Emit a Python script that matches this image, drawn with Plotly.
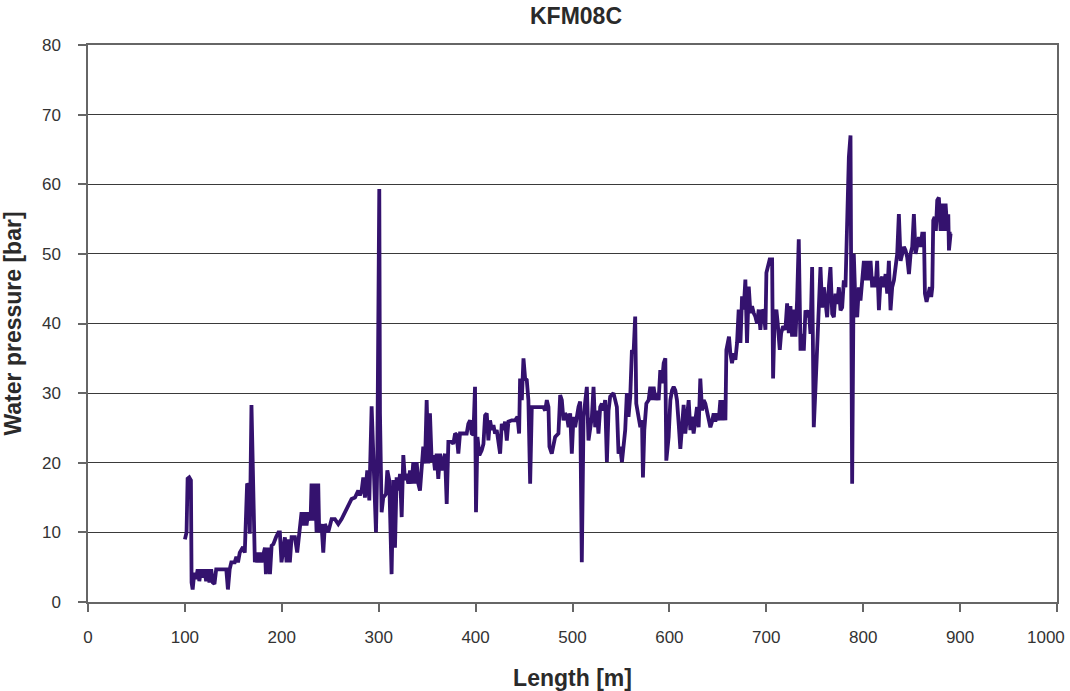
import plotly.graph_objects as go

length_m = [
    100.0, 101.7, 102.8, 104.5, 106.2, 106.9, 108.0, 109.7, 111.5, 113.2, 114.9, 116.7, 118.4, 120.1,
    121.9, 123.6, 125.3, 127.1, 128.8, 130.5, 132.3, 137.5, 142.7, 144.4, 146.2, 147.9, 151.4, 153.1,
    154.8, 156.6, 160.0, 161.8, 162.8, 164.2, 165.9, 167.0, 168.7, 170.4, 172.2, 173.9, 175.6, 177.4,
    179.1, 182.6, 183.6, 186.1, 187.8, 189.5, 191.3, 194.0, 196.5, 198.0, 199.7, 203.2, 204.9, 206.6,
    208.3, 210.1, 213.5, 215.9, 218.0, 220.4, 222.1, 223.8, 225.5, 227.3, 229.7, 230.7, 232.4, 234.2,
    235.9, 237.6, 238.6, 241.0, 242.8, 244.5, 247.9, 251.4, 254.8, 258.3, 261.7, 265.1, 268.6, 272.0,
    275.5, 278.9, 280.6, 282.4, 284.1, 285.8, 288.2, 290.3, 292.7, 295.1, 297.2, 298.5, 300.6, 301.3,
    303.0, 304.7, 307.5, 308.9, 310.9, 313.3, 315.1, 316.8, 318.5, 320.2, 322.0, 323.7, 325.4, 327.1,
    328.8, 330.6, 332.3, 334.0, 335.7, 337.4, 339.2, 340.9, 342.6, 346.0, 347.8, 349.5, 351.2, 352.9,
    354.7, 356.4, 358.1, 359.8, 361.5, 363.3, 365.0, 366.7, 368.4, 370.2, 371.9, 375.3, 377.0, 378.8,
    380.5, 382.2, 383.9, 390.8, 392.5, 394.3, 396.0, 397.7, 399.4, 400.4, 401.9, 403.9, 406.3, 408.1,
    409.8, 411.5, 413.2, 414.9, 416.7, 418.4, 420.1, 421.8, 423.6, 425.3, 427.0, 428.7, 430.4, 432.2,
    433.9, 437.3, 440.8, 443.2, 444.9, 445.9, 447.7, 449.4, 451.1, 452.8, 454.5, 456.3, 458.0, 461.4,
    466.6, 470.0, 471.8, 473.5, 475.2, 476.2, 478.6, 480.4, 482.1, 485.5, 487.3, 489.0, 490.7, 492.4,
    494.1, 495.9, 497.6, 499.3, 501.0, 502.7, 504.5, 506.2, 507.9, 509.6, 511.4, 513.1, 514.8, 516.5,
    518.2, 520.0, 521.7, 523.4, 525.1, 526.8, 528.6, 530.3, 532.0, 533.7, 535.5, 537.2, 538.9, 540.6,
    542.3, 544.1, 545.8, 547.5, 549.2, 551.0, 552.7, 554.4, 556.1, 557.8, 559.6, 561.3, 563.0, 564.7,
    565.8, 568.2, 570.0, 571.7, 572.7, 574.1, 576.2, 578.6, 580.3, 582.0, 583.7, 585.5, 587.2, 588.9,
    590.6, 592.3, 594.1, 595.8, 596.8, 599.2, 601.0, 602.7, 604.4, 606.1, 607.8, 609.6, 611.3, 613.0,
    614.7, 616.4, 618.2, 619.9, 621.6, 623.3, 625.0, 626.8, 628.5, 630.2, 631.9, 633.7, 635.4, 637.1,
    638.8, 640.5, 642.3, 644.0, 645.7, 647.4, 649.1, 650.9, 652.6, 654.3, 656.0, 657.8, 658.8, 660.2,
    661.5, 662.9, 664.6, 666.4, 668.1, 669.8, 671.5, 673.3, 675.0, 676.7, 678.4, 680.1, 681.9, 683.6,
    685.3, 687.0, 688.7, 690.5, 692.2, 693.9, 695.6, 697.4, 699.1, 700.1, 701.5, 703.5, 706.0, 707.0,
    708.4, 710.4, 711.8, 713.9, 715.3, 717.3, 719.7, 721.5, 723.2, 724.9, 726.6, 728.3, 730.1, 731.8,
    733.5, 735.3, 737.0, 738.7, 740.4, 742.1, 743.9, 745.6, 747.3, 749.0, 750.8, 752.5, 754.2, 755.9,
    757.6, 759.4, 761.1, 762.8, 764.5, 766.2, 768.0, 769.7, 771.4, 773.1, 774.9, 776.6, 778.3, 780.0,
    781.7, 783.5, 785.2, 786.9, 787.6, 788.6, 790.3, 792.1, 793.8, 795.5, 797.2, 799.0, 800.7, 802.4,
    804.1, 805.8, 807.6, 809.3, 811.0, 812.7, 814.4, 816.2, 817.9, 819.6, 821.3, 823.1, 824.8, 826.5,
    828.2, 829.9, 831.7, 833.4, 835.1, 836.8, 838.6, 840.3, 842.0, 843.7, 845.4, 847.2, 848.9, 850.6,
    852.3, 854.0, 855.8, 857.5, 859.2, 860.9, 862.7, 863.7, 865.4, 866.8, 868.8, 870.2, 871.3, 872.3,
    873.7, 875.0, 876.4, 878.1, 879.9, 881.6, 883.3, 885.0, 886.8, 887.8, 888.5, 890.2, 891.2,
]

pressure_bar = [
    9.0, 10.0, 17.7, 17.9, 17.5, 2.8, 1.8, 4.2, 3.3, 4.7, 3.0, 4.7, 3.5, 4.7,
    3.0, 4.7, 2.8, 4.7, 2.8, 2.6, 4.7, 4.7, 4.7, 1.8, 4.7, 5.7, 5.7, 6.5,
    5.7, 7.1, 7.9, 7.1, 13.8, 17.0, 16.7, 9.8, 28.3, 17.5, 5.7, 7.1, 5.7, 7.1,
    5.7, 7.8, 4.0, 7.8, 4.0, 8.1, 8.3, 9.3, 10.0, 10.0, 5.7, 9.3, 5.7, 9.0,
    5.7, 9.3, 9.3, 7.1, 9.8, 12.9, 11.0, 12.9, 11.0, 12.9, 11.7, 17.0, 11.7, 17.0,
    10.0, 17.0, 10.0, 11.2, 7.1, 11.2, 10.0, 11.9, 11.9, 11.2, 11.9, 12.9, 13.8, 14.8,
    15.0, 16.0, 15.3, 16.0, 17.9, 15.0, 18.9, 14.6, 28.1, 16.0, 10.0, 19.4, 59.3, 27.1,
    12.9, 15.0, 15.5, 18.9, 17.5, 4.0, 17.5, 7.8, 17.9, 16.0, 18.4, 12.2, 21.1, 17.5,
    18.4, 17.0, 18.9, 17.0, 20.1, 17.0, 20.1, 17.0, 16.0, 22.3, 19.9, 29.0, 19.9, 27.1,
    20.1, 21.1, 18.9, 21.3, 17.7, 21.3, 18.9, 20.3, 21.3, 14.1, 23.0, 23.0, 22.7, 24.2,
    24.0, 21.3, 24.2, 24.2, 25.6, 26.1, 24.2, 24.0, 30.9, 12.9, 23.7, 21.1, 21.8, 22.7,
    26.8, 27.1, 23.2, 26.1, 24.7, 25.4, 24.2, 24.7, 22.7, 21.3, 25.6, 24.7, 25.9, 23.2,
    25.9, 26.1, 26.1, 26.6, 24.2, 32.1, 29.0, 35.0, 32.1, 31.9, 29.0, 17.0, 28.0, 28.0,
    28.0, 28.0, 27.5, 29.0, 28.0, 22.3, 21.3, 22.3, 23.7, 24.2, 29.7, 29.0, 26.1, 27.1,
    26.8, 25.1, 27.1, 21.3, 26.6, 25.1, 26.8, 28.0, 28.8, 5.7, 26.6, 28.5, 30.9, 23.2,
    25.1, 26.6, 30.9, 25.1, 27.5, 24.2, 28.0, 28.5, 27.5, 29.0, 20.1, 27.5, 29.5, 29.7,
    30.0, 29.0, 28.0, 21.3, 22.3, 20.1, 23.2, 24.7, 30.0, 26.6, 29.5, 36.2, 35.7, 41.0,
    28.5, 26.6, 25.1, 26.1, 17.9, 24.7, 28.5, 29.0, 30.9, 29.0, 30.9, 29.0, 30.0, 29.0,
    33.3, 31.4, 34.3, 35.0, 20.3, 23.7, 29.0, 30.4, 30.9, 30.4, 29.0, 25.6, 22.0, 25.1,
    28.3, 24.2, 26.6, 29.0, 24.7, 26.6, 24.2, 26.6, 28.0, 25.1, 32.1, 27.5, 29.0, 28.5,
    27.5, 26.6, 25.1, 25.9, 27.1, 25.9, 27.1, 26.1, 29.0, 26.1, 29.0, 26.1, 36.2, 37.2,
    38.1, 35.7, 34.3, 35.7, 34.8, 37.2, 42.0, 37.2, 43.9, 42.0, 46.3, 37.2, 45.3, 41.5,
    42.5, 41.5, 41.0, 40.0, 42.0, 39.1, 42.0, 41.5, 39.1, 47.3, 48.2, 49.2, 49.2, 32.1,
    40.0, 42.0, 40.0, 36.2, 38.6, 39.6, 39.1, 42.9, 38.6, 42.5, 38.1, 42.0, 38.1, 43.4,
    52.1, 36.1, 38.5, 36.1, 41.9, 40.9, 41.9, 38.5, 48.1, 25.1, 30.9, 35.6, 42.3, 48.1,
    42.3, 45.2, 42.3, 40.9, 45.2, 48.1, 41.4, 40.9, 44.3, 42.8, 45.2, 41.9, 42.3, 46.2,
    45.2, 54.3, 63.9, 67.0, 45.2, 17.0, 50.0, 42.3, 40.9, 45.2, 43.3, 46.2, 49.0, 46.2,
    49.0, 46.2, 49.0, 45.2, 46.7, 45.2, 49.0, 41.9, 46.2, 46.7, 45.2, 47.1, 44.3, 49.0,
    41.9, 45.2, 46.2, 48.1, 50.0, 55.7, 49.0, 50.0, 51.0, 50.5, 49.5, 47.1, 50.0, 51.0,
    55.7, 50.0, 51.4, 52.4, 51.0, 52.9, 52.9, 44.3, 43.1, 44.3, 45.2, 43.8, 45.2, 54.8,
    55.3, 53.3, 57.7, 58.1, 53.3, 57.2, 53.3, 57.2, 53.3, 55.7, 50.5, 52.9, 52.9,
]

x_ticks = [0, 100, 200, 300, 400, 500, 600, 700, 800, 900, 1000]
x_tick_labels = ["0", "100", "200", "300", "400", "500", "600", "700", "800", "900", ""]
last_x_label = "1000"
y_ticks = [0, 10, 20, 30, 40, 50, 60, 70, 80]

fig = go.Figure()
fig.add_trace(go.Scatter(
    x=length_m, y=pressure_bar, mode="lines",
    line=dict(color="#34126e", width=3.8),
    showlegend=False,
))

font_family = "Liberation Sans, Arial, sans-serif"
fig.update_layout(
    width=1070, height=691,
    margin=dict(l=88, r=13, t=45, b=89, autoexpand=False),
    paper_bgcolor="white", plot_bgcolor="white",
    title=dict(text="<b>KFM08C</b>", x=576 / 1070, xanchor="center", xref="container",
               y=1 - 16 / 691, yref="container", yanchor="middle",
               font=dict(family=font_family, size=23, color="#2a2a2a")),
    font=dict(family=font_family, color="#333333"),
)
# last tick label sits shifted left (as in the reference) so it stays inside the page
fig.add_annotation(
    x=x_ticks[-1], xref="x", y=0, yref="paper",
    text=last_x_label, showarrow=False,
    xanchor="right", yanchor="middle", xshift=10, yshift=-35,
    font=dict(family=font_family, size=17, color="#333333"),
)
fig.update_xaxes(
    range=[0, 1000], tickvals=x_ticks, ticktext=x_tick_labels,
    showgrid=False, zeroline=False, automargin=False,
    showline=True, linecolor="#666666", linewidth=1.5, mirror=True,
    ticks="outside", ticklen=8, tickcolor="#666666", tickwidth=1.5,
    tickfont=dict(size=17, color="#333333"), ticklabelstandoff=11,
    title=dict(text="<b>Length [m]</b>", font=dict(size=23, color="#2a2a2a"), standoff=26),
)
fig.update_yaxes(
    range=[0, 80], tickvals=y_ticks, ticktext=[str(v) for v in y_ticks],
    showgrid=True, gridcolor="#3a3a3a", gridwidth=1, zeroline=False, automargin=False,
    showline=True, linecolor="#666666", linewidth=1.5, mirror=True,
    ticks="outside", ticklen=8, tickcolor="#666666", tickwidth=1.5,
    tickfont=dict(size=17, color="#333333"), ticklabelstandoff=14,
    ticklabeloverflow="allow",
    title=dict(text="<b>Water pressure [bar]</b>", font=dict(size=23, color="#2a2a2a"), standoff=18),
)

fig.write_html(
    "out.html",
    config={"displayModeBar": False},
    post_script="document.body.style.margin='0';document.body.style.overflow='hidden';",
)
